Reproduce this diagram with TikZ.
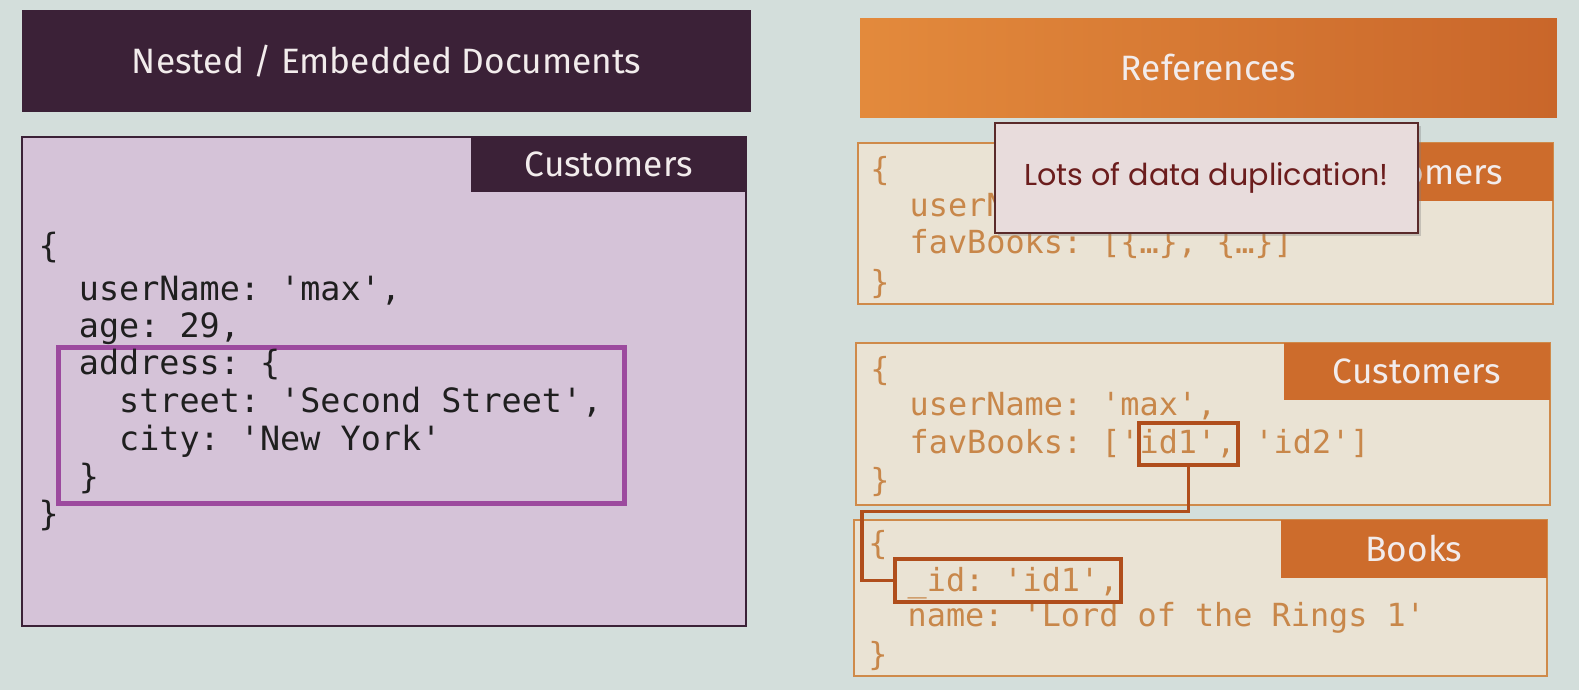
\documentclass[tikz,border=0pt]{standalone}
\usepackage{fontspec}
\setmainfont{Fira Sans}
\setmonofont{DejaVu Sans Mono}
\newfontfamily\calloutfont{Poppins}
\usetikzlibrary{shadows}

\definecolor{pagebg}{HTML}{D3DEDB}
\definecolor{darkplum}{HTML}{3B2137}
\definecolor{lavender}{HTML}{D5C3D8}
\definecolor{plumline}{HTML}{9C4A9E}
\definecolor{orangeL}{HTML}{E38A3C}
\definecolor{orangeR}{HTML}{C9662A}
\definecolor{taborange}{HTML}{CD6C2C}
\definecolor{beige}{HTML}{EAE3D4}
\definecolor{boxorange}{HTML}{CF8A4A}
\definecolor{codeorange}{HTML}{C8874A}
\definecolor{hlbrown}{HTML}{B04E1C}
\definecolor{calloutbg}{HTML}{E8DCDC}
\definecolor{calloutline}{HTML}{5A2A2A}
\definecolor{callouttext}{HTML}{6B1D1D}
\definecolor{headtext}{HTML}{F2ECEC}

\tikzset{
  box/.style={anchor=north west, inner sep=0pt, outer sep=0pt},
  heading/.style={text=headtext, font=\fontsize{17.5}{20}\selectfont},
  leftcode/.style={anchor=base west, inner sep=0pt, text=black!88,
    font=\ttfamily\fontsize{16.6}{19}\selectfont},
  rightcode/.style={anchor=base west, inner sep=0pt, text=codeorange,
    font=\ttfamily\fontsize{15.8}{18}\selectfont},
  hlbox/.style={box, draw=hlbrown, line width=2pt},
  link/.style={draw=hlbrown, line width=1.6pt},
}

\begin{document}
\begin{tikzpicture}[x=0.5pt, y=-0.5pt]
\useasboundingbox (0,0) rectangle (1568,685);
\fill[pagebg] (0,0) rectangle (1568,685);

% ---------- left column: embedded documents ----------
\node[box, fill=darkplum, minimum width=362pt, minimum height=50.5pt] (ltitle) at (22,10) {};
\node[heading] (ltitletext) at (ltitle.center) {Nested / Embedded Documents};

\node[box, fill=lavender, draw=darkplum, line width=1pt, minimum width=359.5pt, minimum height=243pt] (lbox) at (22,136) {};
\node[box, fill=darkplum, anchor=north east, minimum width=136.5pt, minimum height=27.5pt] (ltab) at (lbox.north east) {};
\node[heading] (ltabtext) at (ltab.center) {Customers};

\node[box, draw=plumline, line width=2.5pt, minimum width=281pt, minimum height=77.5pt] (addr) at (58,345) {};

\node[leftcode] (lc1) at (38,256) {\{};
\node[leftcode] (lc2) at (78,298) {userName: 'max',};
\node[leftcode] (lc3) at (78,335) {age: 29,};
\node[leftcode] (lc4) at (78,372) {address: \{};
\node[leftcode] (lc5) at (118,410) {street: 'Second Street',};
\node[leftcode] (lc6) at (118,447) {city: 'New York'};
\node[leftcode] (lc7) at (78,485) {\}};
\node[leftcode] (lc8) at (38,522) {\}};

% ---------- right column: references ----------
\node[box, left color=orangeL, right color=orangeR, minimum width=346pt, minimum height=49.5pt] (rtitle) at (854,18) {};
\node[heading] (rtitletext) at (rtitle.center) {References};

% first variant: whole book documents copied into the customer
\node[box, fill=beige, draw=boxorange, line width=1pt, minimum width=345pt, minimum height=80pt] (topbox) at (852,142) {};
\node[box, fill=taborange, anchor=north east, minimum width=132.5pt, minimum height=29pt] (toptab) at (topbox.north east) {};
\node[heading] (toptabtext) at (toptab.center) {Customers};
\node[rightcode] (tc1) at (864,179) {\{};
\node[rightcode] (tc2) at (903,215) {userName: 'max',};
\node[rightcode] (tc3) at (903,252) {favBooks: [\{…\}, \{…\}]};
\node[rightcode] (tc4) at (864,291) {\}};

\node[box, fill=calloutbg, draw=calloutline, line width=1pt, drop shadow={opacity=0.35, shadow xshift=1.5pt, shadow yshift=-1.5pt},
  minimum width=210pt, minimum height=54.5pt] (callout) at (988,122) {};
\node[text=callouttext, font=\calloutfont\fontsize{15}{18}\selectfont] (callouttxt) at (callout.center) {Lots of data duplication!};

% second variant: customer keeps book ids
\node[box, fill=beige, draw=boxorange, line width=1pt, minimum width=344.5pt, minimum height=80pt] (midbox) at (850,341) {};
\node[box, fill=taborange, anchor=north east, minimum width=132pt, minimum height=28pt] (midtab) at (midbox.north east) {};
\node[heading] (midtabtext) at (midtab.center) {Customers};
\node[rightcode] (mc1) at (864,378) {\{};
\node[rightcode] (mc2) at (903,413) {userName: 'max',};
\node[rightcode] (mc3) at (903,450) {favBooks: ['id1', 'id2']};
\node[rightcode] (mc4) at (864,488) {\}};

\node[box, fill=beige, draw=boxorange, line width=1pt, minimum width=344pt, minimum height=77.5pt] (botbox) at (848,516) {};
\node[box, fill=taborange, anchor=north east, minimum width=132pt, minimum height=29pt] (bottab) at (botbox.north east) {};
\node[heading] (bottabtext) at (bottab.center) {Books};
\node[rightcode] (bc1) at (862,551) {\{};
\node[rightcode] (bc2) at (901,587) {\_id: 'id1',};
\node[rightcode] (bc3) at (901,622) {name: 'Lord of the Rings 1'};
\node[rightcode] (bc4) at (862,661) {\}};

% highlighted id and its link to the book document
\node[hlbox, minimum width=49pt, minimum height=21pt] (hlref) at (1131,420) {};
\node[hlbox, minimum width=112pt, minimum height=21.5pt] (hlid) at (889,555) {};
\coordinate (bend) at (856,508);
\draw[link] (hlref.south) -- (hlref.south |- bend) -- (bend) |- (hlid.west);
\end{tikzpicture}
\end{document}
